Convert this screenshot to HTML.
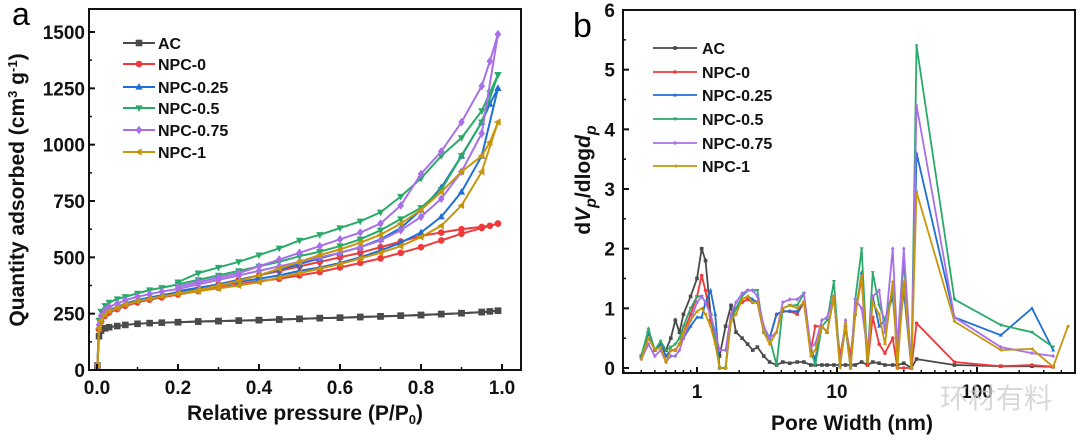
<!DOCTYPE html>
<html><head><meta charset="utf-8">
<style>
html,body{margin:0;padding:0;background:#fff;}
svg{display:block;font-family:"Liberation Sans","Noto Sans CJK SC",sans-serif;}
.tk{font-weight:bold;font-size:19px;fill:#111;}
.lg{font-weight:bold;font-size:16px;fill:#111;}
.ttl{font-weight:bold;font-size:21px;fill:#111;}
</style></head>
<body>
<svg id="svg" width="1080" height="440" viewBox="0 0 1080 440">
<g id="ga"></g>
<g id="gb"></g>
<text x="940" y="408" font-size="28" fill="#cfcfcf" opacity="0.8">环材有料</text>
</svg>
<script>
// ---------- Chart A data ----------
const names = ["AC","NPC-0","NPC-0.25","NPC-0.5","NPC-0.75","NPC-1"];
const colors = ["#4a4a4a","#f0393b","#1f6fd6","#2aaa6a","#a870e8","#c8960c"];
const markers = ["square","circle","up","down","diamond","left"];
const adsP = [0.001,0.005,0.01,0.02,0.03,0.05,0.07,0.1,0.13,0.16,0.2,0.25,0.3,0.35,0.4,0.45,0.5,0.55,0.6,0.65,0.7,0.75,0.8,0.85,0.9,0.95,0.99];
const desP = [0.99,0.97,0.95,0.9,0.85,0.8,0.75,0.7,0.65,0.6,0.55,0.5,0.45,0.4,0.35,0.3,0.25,0.2];
const adsAC   = [20,150,175,185,190,195,200,205,208,210,212,215,217,219,221,224,227,230,232,235,238,241,244,248,252,257,263];
const adsN0   = [20,180,215,240,255,270,285,300,312,322,335,350,365,380,395,405,420,435,455,475,495,520,545,575,605,630,650];
const adsN025 = [20,190,225,250,265,280,295,310,322,332,345,360,375,390,405,420,440,455,475,500,530,565,610,680,790,950,1250];
const adsN05  = [20,220,260,285,300,315,325,340,355,365,380,400,420,440,460,480,505,525,550,580,620,670,720,800,950,1100,1310];
const adsN075 = [20,200,240,265,280,295,310,325,337,348,360,380,400,420,440,460,480,500,520,545,575,620,680,760,880,1050,1490];
const adsN1   = [20,185,220,245,260,275,290,305,316,326,338,350,362,375,390,410,430,450,470,495,520,550,590,640,730,880,1100];
const desAC   = [263,260,257,252,248,244,241,238,235,232,230,227,224,221,219,217,215,212];
const desN0   = [650,640,635,625,610,595,570,545,520,500,480,460,440,420,400,380,360,340];
const desN025 = [1250,1180,1100,950,810,710,630,580,545,520,495,470,445,420,400,380,365,350];
const desN05  = [1310,1230,1150,1030,950,850,770,700,660,630,600,575,540,510,480,455,430,390];
const desN075 = [1490,1370,1260,1100,970,870,730,650,610,580,550,520,490,460,430,410,390,370];
const desN1   = [1100,1010,950,880,790,710,650,600,565,535,510,480,450,420,395,375,355,340];
const adsAll = [adsAC,adsN0,adsN025,adsN05,adsN075,adsN1];
const desAll = [desAC,desN0,desN025,desN05,desN075,desN1];
const aXTicks = [0,0.2,0.4,0.6,0.8,1.0];
const aXLabels = ["0.0","0.2","0.4","0.6","0.8","1.0"];
const aYTicks = [0,250,500,750,1000,1250,1500];

// ---------- Chart B data ----------
const poreW = [0.4,0.45,0.5,0.55,0.6,0.65,0.7,0.75,0.8,0.9,1.0,1.08,1.15,1.25,1.35,1.45,1.6,1.75,1.9,2.1,2.3,2.5,2.7,3.0,3.3,3.7,4.1,4.6,5.2,5.8,6.5,7.0,7.8,8.5,9.5,10.5,11.5,12.5,13.5,15,16.5,18,20,22,25,27,30,34,37,69,148,247,350,446];
const psdAC   = [0.2,0.6,0.3,0.4,0.3,0.5,0.8,0.6,0.9,1.2,1.5,2.0,1.8,0.9,0.5,0.2,0.7,1.05,0.6,0.5,0.4,0.3,0.35,0.2,0.1,0.05,0.1,0.08,0.1,0.1,0.05,0.05,0.05,0.05,0.05,0.05,0.05,0.05,0.05,0.1,0.05,0.1,0.08,0.05,0.05,0.05,0.08,0.0,0.15,0.05,0.03,0.03,0.02,null];
const psdN0   = [0.2,0.6,0.3,0.4,0.2,0.3,0.3,0.4,0.6,0.9,1.2,1.55,1.3,0.8,0.5,0.0,0.0,0.9,1.0,1.1,1.15,1.1,1.1,0.6,0.5,0.9,0.95,0.95,0.9,1.1,0.3,0.7,0.7,0.6,1.2,0.2,0.7,0.2,0.9,1.5,0.05,0.85,0.4,0.25,0.5,0.0,0.0,0.0,0.75,0.1,0.03,0.05,0.02,null];
const psdN025 = [0.2,0.6,0.3,0.4,0.2,0.3,0.3,0.4,0.5,0.7,0.85,0.85,1.1,1.3,0.9,0.0,0.0,0.8,1.0,1.15,1.2,1.15,1.1,0.6,0.5,0.9,0.95,0.95,0.95,1.1,0.3,0.15,0.7,0.6,1.2,0.05,0.7,0.0,0.9,1.6,0.1,1.2,0.7,0.8,1.2,0.3,1.3,0.0,3.6,0.85,0.55,1.0,0.3,null];
const psdN05  = [0.2,0.65,0.3,0.45,0.3,0.35,0.4,0.5,0.7,1.0,1.2,1.2,1.1,0.9,0.5,0.0,0.0,0.8,1.0,1.2,1.3,1.3,1.3,0.6,0.5,0.05,1.0,1.05,1.05,1.25,0.3,0.05,0.7,0.8,1.45,0.05,0.7,0.0,1.15,2.0,0.1,1.6,1.05,0.8,1.3,0.3,1.8,0.0,5.4,1.15,0.72,0.6,0.35,null];
const psdN075 = [0.15,0.4,0.2,0.3,0.1,0.2,0.2,0.3,0.5,0.8,1.1,1.2,1.1,0.9,0.6,0.3,0.3,0.9,1.1,1.25,1.3,1.3,1.2,0.7,0.5,0.6,1.1,1.15,1.15,1.25,0.35,0.4,0.8,0.85,1.2,0.05,0.8,0.0,1.15,1.0,0.3,1.2,1.3,0.6,2.0,0.35,2.0,0.0,4.4,0.85,0.35,0.25,0.2,null];
const psdN1   = [0.15,0.5,0.3,0.35,0.1,0.3,0.3,0.4,0.6,0.8,0.95,1.0,0.9,0.7,0.4,0.0,0.0,0.8,0.9,1.15,1.2,1.1,1.1,0.6,0.4,0.6,1.0,1.05,1.0,1.1,0.2,0.3,0.7,0.6,1.2,0.0,0.75,0.0,0.9,1.55,0.1,1.1,0.9,0.4,1.45,0.0,1.45,0.0,2.95,0.78,0.3,0.32,0.02,0.7];
const psdAll = [psdAC,psdN0,psdN025,psdN05,psdN075,psdN1];
const bXTicks = [1,10,100];
const bYTicks = [0,1,2,3,4,5,6];

const NS = "http://www.w3.org/2000/svg";
function mk(parent, tag, attrs){ const e=document.createElementNS(NS,tag); for(const k in attrs) e.setAttribute(k,attrs[k]); parent.appendChild(e); return e; }
function marker(g, type, x, y, s, c){
  let e;
  if(type==="square") e=mk(g,"rect",{x:x-s,y:y-s,width:2*s,height:2*s,fill:c});
  else if(type==="circle") e=mk(g,"circle",{cx:x,cy:y,r:s,fill:c});
  else { let p;
    if(type==="up") p=[[x,y-s*1.2],[x-s*1.1,y+s*0.8],[x+s*1.1,y+s*0.8]];
    else if(type==="down") p=[[x,y+s*1.2],[x-s*1.1,y-s*0.8],[x+s*1.1,y-s*0.8]];
    else if(type==="diamond") p=[[x,y-s*1.3],[x+s,y],[x,y+s*1.3],[x-s,y]];
    else p=[[x-s*1.2,y],[x+s*0.8,y-s*1.1],[x+s*0.8,y+s*1.1]];
    e=mk(g,"polygon",{points:p.map(q=>q.join(",")).join(" "),fill:c}); }
  return e;
}

// ---------- Chart A ----------
const ga=document.getElementById("ga");
const aL=89,aR=521,aT=9,aB=370;
const ax=v=>97+v*405, ay=v=>370-v*(338/1500);
for(let s=0;s<6;s++){
  const g=mk(ga,"g",{});
  
  
  const ptsA=adsP.map((p,i)=>[ax(p),ay(adsAll[s][i])]);
  const ptsD=desP.map((p,i)=>[ax(p),ay(desAll[s][i])]);
  mk(g,"polyline",{points:ptsA.map(q=>q.join(",")).join(" "),fill:"none",stroke:colors[s],"stroke-width":2});
  mk(g,"polyline",{points:ptsD.map(q=>q.join(",")).join(" "),fill:"none",stroke:colors[s],"stroke-width":2});
  ptsA.concat(ptsD).forEach(q=>marker(g,markers[s],q[0],q[1],3.3,colors[s]));
}
mk(ga,"rect",{x:aL,y:aT,width:aR-aL,height:aB-aT,fill:"none",stroke:"#111","stroke-width":2});
aYTicks.forEach(v=>{
  mk(ga,"line",{x1:aL,x2:aL+6,y1:ay(v),y2:ay(v),stroke:"#111","stroke-width":2});
  if(v<1500) mk(ga,"line",{x1:aL,x2:aL+3,y1:ay(v+125),y2:ay(v+125),stroke:"#111","stroke-width":1.5});
  const t=mk(ga,"text",{x:aL-4,y:ay(v)+7,"text-anchor":"end",class:"tk"}); t.textContent=v;
   
});
aXTicks.forEach((v,i)=>{
  mk(ga,"line",{x1:ax(v),x2:ax(v),y1:aB,y2:aB-6,stroke:"#111","stroke-width":2});
  if(v<1) mk(ga,"line",{x1:ax(v+0.1),x2:ax(v+0.1),y1:aB,y2:aB-3,stroke:"#111","stroke-width":1.5});
  const t=mk(ga,"text",{x:ax(v),y:aB+24,"text-anchor":"middle",class:"tk"}); t.textContent=aXLabels[i];
   
});
let t=mk(ga,"text",{x:305,y:420,"text-anchor":"middle",class:"ttl"}); t.innerHTML='Relative pressure (P/P<tspan font-size="13" dy="4">0</tspan><tspan dy="-4">)</tspan>';
 
t=mk(ga,"text",{transform:"translate(24,190) rotate(-90)","text-anchor":"middle",class:"ttl"}); t.innerHTML='Quantity adsorbed (cm<tspan font-size="13" dy="-7">3</tspan><tspan dy="7"> g</tspan><tspan font-size="13" dy="-7">-1</tspan><tspan dy="7">)</tspan>';
 
t=mk(ga,"text",{x:12,y:25,"font-size":32}); t.textContent="a";
 
const legAY=[43,64,87,108,130,152];
for(let s=0;s<6;s++){
  const g=mk(ga,"g",{});
   
  mk(g,"line",{x1:123,x2:155,y1:legAY[s],y2:legAY[s],stroke:colors[s],"stroke-width":2});
  marker(g,markers[s],139,legAY[s],3.3,colors[s]);
  const tt=mk(g,"text",{x:158,y:legAY[s]+6,class:"lg"}); tt.textContent=names[s];
}

// ---------- Chart B ----------
const gb=document.getElementById("gb");
const bL=623,bR=1075,bT=10,bB=373;
const bx=v=>697+Math.log10(v)*140, by=v=>368-v*(358/6);
for(let s=0;s<6;s++){
  const g=mk(gb,"g",{});
  
  
  const pts=[]; poreW.forEach((w,i)=>{ const v=psdAll[s][i]; if(v!==null) pts.push([bx(w),by(v)]); });
  mk(g,"polyline",{points:pts.map(q=>q.join(",")).join(" "),fill:"none",stroke:colors[s],"stroke-width":1.8});
  pts.forEach(q=>marker(g,markers[s],q[0],q[1],1.8,colors[s]));
}
mk(gb,"rect",{x:bL,y:bT,width:bR-bL,height:bB-bT,fill:"none",stroke:"#111","stroke-width":2});
bYTicks.forEach(v=>{
  mk(gb,"line",{x1:bL,x2:bL+6,y1:by(v),y2:by(v),stroke:"#111","stroke-width":2});
  if(v<6) mk(gb,"line",{x1:bL,x2:bL+3,y1:by(v+0.5),y2:by(v+0.5),stroke:"#111","stroke-width":1.5});
  const tt=mk(gb,"text",{x:bL-8,y:by(v)+7,"text-anchor":"end",class:"tk"}); tt.textContent=v;
   
});
for(let d=-1;d<=2;d++) for(let m=1;m<=9;m++){ const v=m*Math.pow(10,d); const X=bx(v); if(X<bL||X>bR) continue;
  mk(gb,"line",{x1:X,x2:X,y1:bB,y2:bB-(m===1?6:3),stroke:"#111","stroke-width":m===1?2:1.5}); }
bXTicks.forEach(v=>{
  const tt=mk(gb,"text",{x:bx(v),y:bB+25,"text-anchor":"middle",class:"tk"}); tt.textContent=v;
   
});
t=mk(gb,"text",{x:852,y:430,"text-anchor":"middle",class:"ttl"}); t.textContent="Pore Width (nm)";
 
t=mk(gb,"text",{transform:"translate(590,180) rotate(-90)","text-anchor":"middle",class:"ttl","font-size":"25"}); t.innerHTML='d<tspan font-style="italic">V</tspan><tspan font-size="16" font-style="italic" dy="6">p</tspan><tspan dy="-6">/dlog</tspan><tspan font-style="italic">d</tspan><tspan font-size="16" font-style="italic" dy="6">p</tspan>';
 
t=mk(gb,"text",{x:573,y:37,"font-size":34}); t.textContent="b";
 
const legBY=[48,72,95,119,143,166];
for(let s=0;s<6;s++){
  const g=mk(gb,"g",{});
   
  mk(g,"line",{x1:653,x2:697,y1:legBY[s],y2:legBY[s],stroke:colors[s],"stroke-width":1.8});
  marker(g,markers[s],675,legBY[s],1.8,colors[s]);
  const tt=mk(g,"text",{x:702,y:legBY[s]+6,class:"lg"}); tt.textContent=names[s];
}
</script>
</body></html>
